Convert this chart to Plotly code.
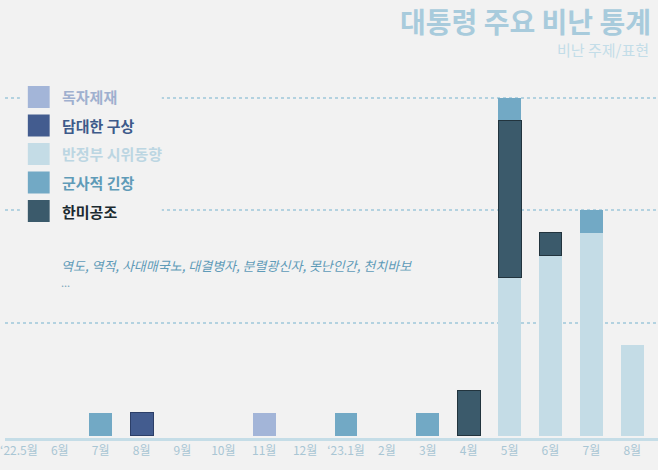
import plotly.graph_objects as go

W, H = 658, 470
BG = "#f2f2f2"
FONT = "Noto Sans CJK KR"

months = ["‘22.5월", "6월", "7월", "8월", "9월", "10월", "11월", "12월",
          "‘23.1월", "2월", "3월", "4월", "5월", "6월 ", "7월 ", "8월 "]
tick_text = ["‘22.5월", "6월", "7월", "8월", "9월", "10월", "11월", "12월",
             "‘23.1월", "2월", "3월", "4월", "5월", "6월", "7월", "8월"]

# counts per month for each topic
anti_gov = [0, 0, 0, 0, 0, 0, 0, 0, 0, 0, 0, 0, 7, 8, 9, 4]       # 반정부 시위동향
alliance = [0, 0, 0, 0, 0, 0, 0, 0, 0, 0, 0, 2, 7, 1, 0, 0]       # 한미공조
military = [0, 0, 1, 0, 0, 0, 0, 0, 1, 0, 1, 0, 1, 0, 1, 0]       # 군사적 긴장
sanctions = [0, 0, 0, 0, 0, 0, 1, 0, 0, 0, 0, 0, 0, 0, 0, 0]      # 독자제재
audacious = [0, 0, 0, 1, 0, 0, 0, 0, 0, 0, 0, 0, 0, 0, 0, 0]      # 담대한 구상

# name, values, fill, outline
series = [
    ("반정부 시위동향", anti_gov, "#c4dce6", None),
    ("한미공조", alliance, "#3b5a6b", "#22343e"),
    ("군사적 긴장", military, "#72a9c5", None),
    ("독자제재", sanctions, "#a3b5d8", None),
    ("담대한 구상", audacious, "#435c8f", "#2c3f68"),
]

legend_items = [
    ("독자제재", "#a3b5d8", "#9fb0cf"),
    ("담대한 구상", "#435c8f", "#3d5a8a"),
    ("반정부 시위동향", "#c4dce6", "#bcd6e2"),
    ("군사적 긴장", "#72a9c5", "#5f9bb8"),
    ("한미공조", "#3b5a6b", "#1b2a30"),
]

fig = go.Figure()
for name, vals, color, edge in series:
    if edge:
        line = dict(color=edge, width=[1 if v else 0 for v in vals])
    else:
        line = dict(width=0)
    fig.add_trace(go.Bar(
        x=months, y=vals, name=name,
        marker=dict(color=color, line=line),
        hoverinfo="skip", showlegend=False,
    ))

# plot area spans full width, y from 0 to 438 px
PLOT_H = 438


def px(x):
    return x / W


def py(y):
    return 1 - y / PLOT_H


shapes = [
    # hide gridlines behind the legend block
    dict(type="rect", xref="paper", yref="paper",
         x0=px(15), x1=px(158), y0=py(224), y1=py(84),
         fillcolor=BG, line=dict(width=0), layer="above"),
]
annotations = []
for i, (label, sq, tc) in enumerate(legend_items):
    cy = 97 + i * 28.5
    shapes.append(dict(type="rect", xref="paper", yref="paper",
                       x0=px(23), x1=px(45), y0=py(cy + 11), y1=py(cy - 11),
                       fillcolor=sq, line=dict(width=0), layer="above"))
    annotations.append(dict(xref="paper", yref="paper", x=px(55), y=py(cy),
                            xanchor="left", yanchor="middle", showarrow=False,
                            text=f"<b>{label}</b>",
                            font=dict(family=FONT, size=15, color=tc)))

annotations += [
    dict(xref="paper", yref="paper", x=px(652), y=py(0),
         xanchor="right", yanchor="top", showarrow=False, borderpad=0,
         text="<b>대통령 주요 비난 통계</b>",
         font=dict(family=FONT, size=28, color="#a8cbdc")),
    dict(xref="paper", yref="paper", x=px(650), y=py(50),
         xanchor="right", yanchor="middle", showarrow=False, borderpad=0,
         text="비난 주제/표현",
         font=dict(family=FONT, size=15, color="#c3dde8")),
    dict(xref="paper", yref="paper", x=px(54), y=py(265),
         xanchor="left", yanchor="middle", showarrow=False, align="left",
         text="<i>역도, 역적, 사대매국노, 대결병자, 분렬광신자, 못난인간, 천치바보</i>",
         font=dict(family=FONT, size=13, color="#5f9bb8")),
    dict(xref="paper", yref="paper", x=px(54), y=py(282),
         xanchor="left", yanchor="middle", showarrow=False,
         text="...", font=dict(family=FONT, size=11, color="#7fa7bb")),
]

fig.update_layout(
    width=W, height=H,
    barmode="stack", bargap=0.44,
    paper_bgcolor=BG, plot_bgcolor=BG,
    margin=dict(l=0, r=0, t=0, b=H - PLOT_H),
    font=dict(family=FONT),
    xaxis=dict(
        range=[-0.34, 15.63], tickmode="array",
        tickvals=months, ticktext=tick_text,
        tickfont=dict(family=FONT, size=12, color="#a9c6d4"),
        showline=True, linecolor="#c5dde7", linewidth=3,
        showgrid=False, ticks="", fixedrange=True,
    ),
    yaxis=dict(
        range=[-0.11, 19.33], tickvals=[5, 10, 15],
        showticklabels=False, showgrid=True,
        gridcolor="#b3d2e0", gridwidth=1.5, griddash="dot",
        zeroline=False, showline=False, fixedrange=True,
    ),
    shapes=shapes, annotations=annotations,
    showlegend=False,
)

fig.write_html(
    "out.html",
    config={"displayModeBar": False},
    post_script="document.body.style.margin='0';document.body.style.background='#f2f2f2';",
)
